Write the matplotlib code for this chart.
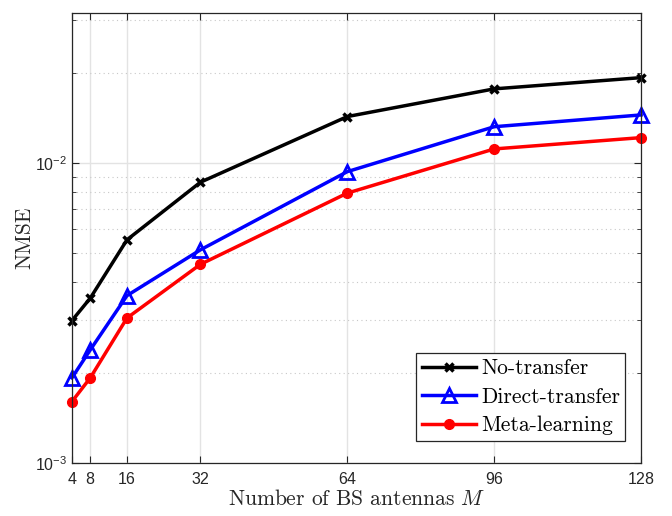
import numpy as np
import matplotlib
matplotlib.use("Agg")
import matplotlib.pyplot as plt
from matplotlib.ticker import LogLocator, NullFormatter

plt.rcParams['font.family'] = ['Liberation Sans', 'DejaVu Sans']
plt.rcParams['mathtext.fontset'] = 'cm'
plt.rcParams['axes.formatter.use_mathtext'] = True

antennas = [4, 8, 16, 32, 64, 96, 128]
no_transfer = [2.98e-3, 3.54e-3, 5.54e-3, 8.62e-3, 1.427e-2, 1.765e-2, 1.924e-2]
direct_transfer = [1.92e-3, 2.38e-3, 3.61e-3, 5.13e-3, 9.35e-3, 1.32e-2, 1.445e-2]
meta_learning = [1.60e-3, 1.92e-3, 3.04e-3, 4.59e-3, 7.93e-3, 1.113e-2, 1.214e-2]

fig = plt.figure(figsize=(6.72, 5.16), dpi=100)
ax = fig.add_axes([0.107, 0.103, 0.847, 0.872])

ax.plot(antennas, no_transfer, color='k', lw=2.5, marker='x', ms=6, mew=2.5,
        clip_on=False, label='No-transfer')
ax.plot(antennas, direct_transfer, color='b', lw=2.5, marker='^', ms=10, mew=2,
        mfc='none', clip_on=False, label='Direct-transfer')
ax.plot(antennas, meta_learning, color='r', lw=2.5, marker='o', ms=7,
        clip_on=False, label='Meta-learning')

ax.set_yscale('log')
ax.set_xlim(4, 128)
ax.set_ylim(1e-3, 10 ** -1.5)
ax.set_xticks(antennas)
ax.yaxis.set_major_locator(LogLocator(base=10, numticks=10))
ax.yaxis.set_minor_locator(LogLocator(base=10, subs=np.arange(2, 10), numticks=20))
ax.yaxis.set_minor_formatter(NullFormatter())

ax.grid(True, which='major', color='#e3e3e3', lw=1, ls='-')
ax.grid(True, which='minor', axis='y', color='#c8c8c8', lw=0.8, ls=(0, (1, 3)))
ax.set_axisbelow(True)

ax.tick_params(which='both', direction='in', top=True, right=True, labelsize=11.5,
               colors='#262626')
ax.tick_params(which='major', length=5)
ax.tick_params(which='minor', length=3)
ax.tick_params(axis='x', which='major', pad=6)
for s in ax.spines.values():
    s.set_color('#262626')
    s.set_linewidth(0.9)

ax.set_xlabel('Number of BS antennas $M$', family='cmr10', fontsize=15.5, color='#262626',
              labelpad=1)
ax.set_ylabel('NMSE', family='cmr10', fontsize=15.5, color='#262626', labelpad=0)

leg = ax.legend(loc='lower right', bbox_to_anchor=(0.98, 0.04), prop={'family': 'cmr10', 'size': 15.5},
                fancybox=False, edgecolor='#262626', framealpha=1,
                handlelength=2.5, borderpad=0.25, labelspacing=0.42, handletextpad=0.25,
                borderaxespad=0.2)
leg.get_frame().set_linewidth(0.9)

fig.savefig('out.png', dpi=100)
